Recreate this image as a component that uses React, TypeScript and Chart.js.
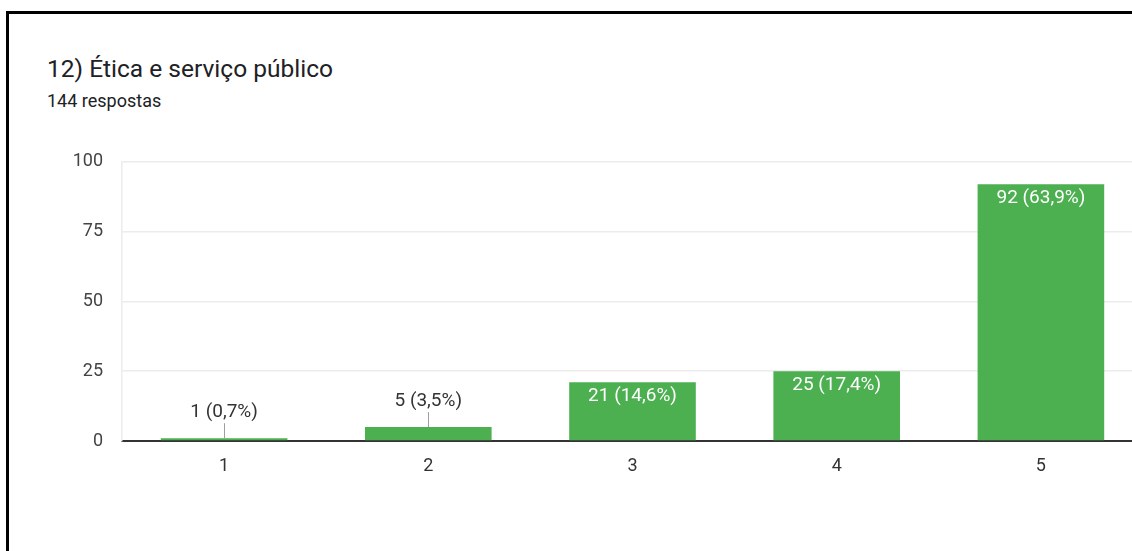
import React, { useEffect, useRef } from "react";
import { Chart, registerables } from "chart.js";

Chart.register(...registerables);

const TITLE = "12) Ética e serviço público";
const SUBTITLE = "144 respostas";
const categories = ["1", "2", "3", "4", "5"];
const counts = [1, 5, 21, 25, 92];
const percents = ["0,7%", "3,5%", "14,6%", "17,4%", "63,9%"];
const yTicks = [0, 25, 50, 75, 100];

const FONT = "Roboto, 'Noto Sans', Arial, sans-serif";

const labelPlugin = {
  id: "barLabels",
  afterDatasetsDraw(chart: any) {
    const ctx = chart.ctx;
    const meta = chart.getDatasetMeta(0);
    ctx.save();
    ctx.font = `19px ${FONT}`;
    ctx.textAlign = "center";
    ctx.textBaseline = "middle";
    meta.data.forEach((bar: any, i: number) => {
      const text = `${counts[i]} (${percents[i]})`;
      const h = bar.base - bar.y;
      if (h > 30) {
        ctx.fillStyle = "#ffffff";
        ctx.fillText(text, bar.x, bar.y + 14);
      } else {
        ctx.strokeStyle = "#9e9e9e";
        ctx.lineWidth = 1;
        ctx.beginPath();
        ctx.moveTo(Math.round(bar.x) + 0.5, bar.y);
        ctx.lineTo(Math.round(bar.x) + 0.5, bar.y - 15);
        ctx.stroke();
        ctx.fillStyle = "#333333";
        ctx.fillText(text, bar.x, bar.y - 26);
      }
    });
    ctx.restore();
  },
};

export default function App() {
  const canvasRef = useRef<HTMLCanvasElement>(null);

  useEffect(() => {
    document.body.style.overflow = "hidden";
    const chart = new Chart(canvasRef.current as HTMLCanvasElement, {
      type: "bar",
      data: {
        labels: categories,
        datasets: [
          {
            data: counts,
            backgroundColor: "#4caf50",
            borderWidth: 0,
            categoryPercentage: 1,
            barPercentage: 0.62,
          },
        ],
      },
      options: {
        animation: false,
        responsive: false,
        maintainAspectRatio: false,
        layout: { padding: { top: 12, left: 0, right: 0, bottom: 0 } },
        plugins: {
          legend: { display: false },
          tooltip: { enabled: false },
          title: { display: false },
        },
        scales: {
          x: {
            grid: { display: false, drawTicks: false },
            border: { display: true, color: "#333333", width: 2 },
            ticks: {
              color: "#333333",
              font: { family: FONT, size: 18 },
              padding: 15,
            },
            afterFit(scale: any) {
              scale.height = 69;
            },
          },
          y: {
            min: 0,
            max: 100,
            afterBuildTicks(scale: any) {
              scale.ticks = yTicks.map((v) => ({ value: v }));
            },
            grid: {
              color: "#ececec",
              lineWidth: 1.5,
              drawTicks: false,
            },
            border: { display: true, color: "#ececec", width: 1.5 },
            ticks: {
              color: "#444444",
              font: { family: FONT, size: 18 },
              padding: 19,
            },
            afterFit(scale: any) {
              scale.width = 82;
            },
          },
        },
      },
      plugins: [labelPlugin],
    });
    return () => chart.destroy();
  }, []);

  return (
    <div
      style={{
        position: "absolute",
        left: 0,
        top: 0,
        width: 1132,
        height: 551,
        overflow: "hidden",
        background: "#ffffff",
      }}
    >
      <div
        style={{
          position: "absolute",
          left: 6,
          top: 11,
          width: 1200,
          height: 600,
          borderLeft: "3px solid #000",
          borderTop: "3px solid #000",
        }}
      />
      <div
        style={{
          position: "absolute",
          left: 47,
          top: 54,
          fontFamily: FONT,
          fontSize: 24.5,
          color: "#202124",
          lineHeight: "30px",
          whiteSpace: "nowrap",
        }}
      >
        {TITLE}
      </div>
      <div
        style={{
          position: "absolute",
          left: 47,
          top: 90,
          fontFamily: FONT,
          fontSize: 18,
          color: "#202124",
          lineHeight: "22px",
          whiteSpace: "nowrap",
        }}
      >
        {SUBTITLE}
      </div>
      <canvas
        ref={canvasRef}
        width={1103}
        height={378}
        style={{ position: "absolute", left: 40, top: 132, width: 1103, height: 378 }}
      />
    </div>
  );
}
